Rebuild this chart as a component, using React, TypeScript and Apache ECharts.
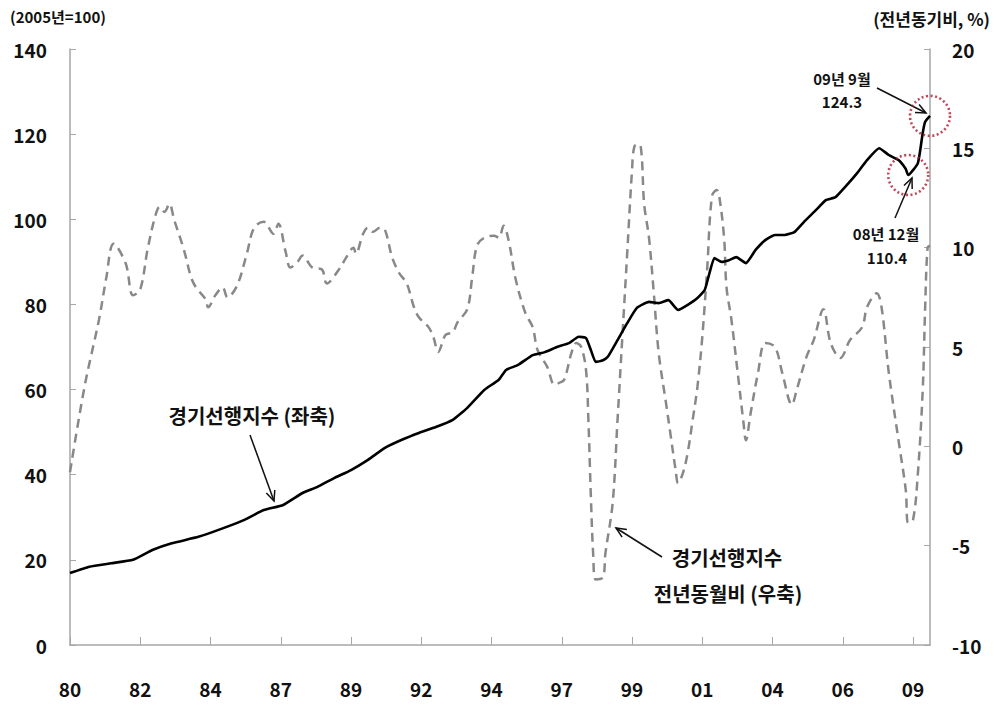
import React, { useEffect, useRef } from "react";
import * as echarts from "echarts";

// Monthly categories: Feb 1980 .. Sep 2009
const MONTHS: string[] = [];
for (let y = 1980; y <= 2009; y++) {
  for (let m = 1; m <= 12; m++) {
    if (y === 1980 && m < 2) continue;
    if (y === 2009 && m > 9) break;
    MONTHS.push(`${y}-${String(m).padStart(2, "0")}`);
  }
}

// 경기선행지수 (좌축, 2005=100)
const ciDates = [
  "1980-02", "1980-10", "1981-07", "1982-04", "1982-12", "1983-08", "1984-07", "1985-05",
  "1986-02", "1986-10", "1987-06", "1988-02", "1988-08", "1989-03", "1989-10", "1990-05",
  "1990-12", "1991-07", "1992-02", "1992-09", "1993-04", "1993-10", "1994-05", "1994-11",
  "1995-02", "1995-07", "1996-01", "1996-06", "1996-11", "1997-04", "1997-08", "1997-11",
  "1998-01", "1998-03", "1998-06", "1998-08", "1998-12", "1999-04", "1999-08", "2000-01",
  "2000-05", "2000-09", "2001-01", "2001-05", "2001-09", "2001-12", "2002-02", "2002-04",
  "2002-07", "2002-10", "2003-01", "2003-05", "2003-09", "2004-01", "2004-05", "2004-09",
  "2005-01", "2005-05", "2005-10", "2006-02", "2006-06", "2006-10", "2007-03", "2007-07",
  "2007-12", "2008-04", "2008-08", "2008-11", "2008-12", "2009-04", "2009-06", "2009-07",
  "2009-09",
];
const ciValues = [
  16.9, 18.4, 19.2, 20.0, 22.3, 23.9, 25.4, 27.4,
  29.4, 31.7, 32.9, 35.7, 37.1, 39.2, 41.1, 43.5,
  46.3, 48.2, 49.8, 51.2, 52.9, 55.7, 59.9, 62.3,
  64.6, 65.8, 68.1, 68.8, 70.0, 70.9, 72.4, 72.1,
  69.3, 66.5, 66.9, 67.7, 71.6, 75.6, 79.2, 80.6,
  80.3, 81.0, 78.7, 79.9, 81.5, 83.4, 87.4, 90.9,
  90.0, 90.4, 91.1, 89.7, 92.8, 95.1, 96.3, 96.3,
  97.0, 99.4, 102.2, 104.5, 105.2, 107.6, 110.9, 113.9,
  116.7, 115.1, 113.9, 111.8, 110.4, 113.2, 120.3, 122.9,
  124.3,
];

// 경기선행지수 전년동월비 (우축, %)
const yoyDates = [
  "1980-02", "1980-08", "1981-02", "1981-05", "1981-08", "1982-01", "1982-04", "1982-07",
  "1982-10", "1983-01", "1983-03", "1983-05", "1983-07", "1983-09", "1984-01", "1984-04",
  "1984-06", "1984-10", "1984-11", "1985-02", "1985-05", "1985-07", "1985-11", "1986-03",
  "1986-06", "1986-10", "1987-02", "1987-04", "1987-07", "1987-09", "1987-12", "1988-02",
  "1988-06", "1988-10", "1988-12", "1989-05", "1989-08", "1989-11", "1989-12", "1990-03",
  "1990-05", "1990-07", "1990-10", "1990-12", "1991-03", "1991-06", "1991-09", "1991-12",
  "1992-02", "1992-06", "1992-08", "1992-10", "1993-01", "1993-04", "1993-06", "1993-10",
  "1993-12", "1994-02", "1994-05", "1994-09", "1994-11", "1995-01", "1995-03", "1995-06",
  "1995-10", "1996-01", "1996-03", "1996-07", "1996-10", "1996-12", "1997-02", "1997-05",
  "1997-07", "1997-09", "1997-11", "1997-12", "1998-01", "1998-02", "1998-03", "1998-06",
  "1998-07", "1998-10", "1998-12", "1999-02", "1999-04", "1999-06", "1999-07", "1999-09",
  "1999-10", "1999-11", "2000-01", "2000-03", "2000-05", "2000-08", "2000-10", "2000-12",
  "2001-01", "2001-03", "2001-05", "2001-07", "2001-09", "2001-11", "2002-01", "2002-03",
  "2002-05", "2002-06", "2002-08", "2002-09", "2002-11", "2003-02", "2003-04", "2003-05",
  "2003-07", "2003-10", "2004-01", "2004-05", "2004-08", "2004-12", "2005-02", "2005-06",
  "2005-09", "2006-01", "2006-04", "2006-08", "2006-12", "2007-05", "2007-07", "2007-11",
  "2008-01", "2008-04", "2008-08", "2008-11", "2008-12", "2009-02", "2009-04", "2009-06",
  "2009-07", "2009-08", "2009-09",
];
const yoyValues = [
  -1.3, 3.0, 6.4, 8.5, 10.2, 9.2, 7.6, 7.9,
  9.9, 11.5, 12.05, 11.8, 12.2, 11.4, 9.9, 8.5,
  8.0, 7.4, 7.0, 7.6, 8.0, 7.5, 8.1, 9.7,
  11.0, 11.3, 10.7, 11.2, 9.8, 9.0, 9.3, 9.6,
  9.0, 8.9, 8.2, 8.9, 9.5, 10.0, 9.7, 10.7,
  11.0, 10.8, 11.0, 10.9, 9.5, 8.7, 8.2, 7.0,
  6.5, 6.0, 5.5, 4.75, 5.6, 5.75, 6.25, 6.9,
  8.5, 10.1, 10.5, 10.6, 10.5, 11.1, 10.4, 8.4,
  6.7, 6.0, 4.85, 4.0, 3.1, 3.2, 3.35, 4.7,
  5.2, 5.0, 3.85, 1.3, -2.5, -5.5, -6.7, -6.6,
  -5.4, -2.85, 1.3, 5.5, 9.7, 13.9, 15.1, 15.2,
  14.6, 12.2, 10.5, 7.7, 4.7, 2.2, 0.5, -1.2,
  -1.85, -1.35, -0.3, 1.3, 3.0, 5.5, 8.9, 12.6,
  12.9, 12.6, 10.5, 8.0, 6.4, 3.3, 1.2, 0.3,
  1.7, 3.7, 5.2, 5.0, 3.7, 2.1, 2.85, 4.5,
  5.35, 6.9, 5.2, 4.45, 5.35, 6.0, 7.0, 7.7,
  7.0, 3.7, 0.3, -2.2, -3.85, -3.7, -1.35, 2.85,
  7.0, 10.0, 10.1,
];

// Highlighted points
const markDates = ["2008-12", "2009-09"];
const markValues = [110.4, 124.3];

const FONT = '"Noto Sans CJK KR", "Noto Sans", sans-serif';

function arrow(x1: number, y1: number, x2: number, y2: number) {
  const a = Math.atan2(y2 - y1, x2 - x1);
  const L = 11;
  const s = 0.42;
  const p1 = [x2 - L * Math.cos(a - s), y2 - L * Math.sin(a - s)];
  const p2 = [x2 - L * Math.cos(a + s), y2 - L * Math.sin(a + s)];
  return [
    { type: "line", shape: { x1, y1, x2, y2 }, style: { stroke: "#111", lineWidth: 1.5 } },
    {
      type: "polyline",
      shape: { points: [p1, [x2, y2], p2] },
      style: { stroke: "#111", lineWidth: 1.5, fill: null },
    },
  ];
}

function txt(x: number, y: number, text: string, size: number, align = "center") {
  return {
    type: "text",
    x,
    y,
    style: {
      text,
      fontSize: size,
      fontWeight: "bold",
      fontFamily: FONT,
      fill: "#111",
      align,
      verticalAlign: "middle",
    },
  };
}

export default function App() {
  const ref = useRef<HTMLDivElement>(null);

  useEffect(() => {
    document.body.style.margin = "0";
    if (!ref.current) return;
    const chart = echarts.init(ref.current, undefined, { renderer: "svg" });
    const axisColor = "#a6a6a6";
    const every29 = (i: number) => i % 29 === 0;

    chart.setOption({
      animation: false,
      backgroundColor: "#fff",
      grid: { left: 70, right: 65, top: 49, bottom: 60, containLabel: false },
      xAxis: {
        type: "category",
        data: MONTHS,
        boundaryGap: false,
        axisLine: { lineStyle: { color: axisColor, width: 1.5 } },
        axisTick: { inside: true, length: 8, interval: every29, lineStyle: { color: axisColor } },
        axisLabel: {
          interval: every29,
          formatter: (v: string) => v.slice(2, 4),
          margin: 34,
          fontSize: 19,
          fontWeight: "bold",
          fontFamily: FONT,
          color: "#111",
        },
        splitLine: { show: false },
      },
      yAxis: [
        {
          type: "value",
          min: 0,
          max: 140,
          interval: 20,
          position: "left",
          axisLine: { show: true, lineStyle: { color: axisColor, width: 1.5 } },
          axisTick: { show: true, inside: true, length: 6, lineStyle: { color: axisColor } },
          axisLabel: { margin: 23, fontSize: 19, fontWeight: "bold", fontFamily: FONT, color: "#111" },
          splitLine: { show: false },
        },
        {
          type: "value",
          min: -10,
          max: 20,
          interval: 5,
          position: "right",
          axisLine: { show: true, lineStyle: { color: axisColor, width: 1.5 } },
          axisTick: { show: true, inside: true, length: 6, lineStyle: { color: axisColor } },
          axisLabel: { margin: 22, fontSize: 19, fontWeight: "bold", fontFamily: FONT, color: "#111" },
          splitLine: { show: false },
        },
      ],
      series: [
        {
          name: "경기선행지수 전년동월비",
          type: "line",
          yAxisIndex: 1,
          data: yoyDates.map((d, k) => [d, yoyValues[k]]),
          smooth: 0.35,
          showSymbol: false,
          symbol: "none",
          lineStyle: { color: "#888888", width: 2.5, type: [9, 6] },
          z: 2,
        },
        {
          name: "경기선행지수",
          type: "line",
          yAxisIndex: 0,
          data: ciDates.map((d, k) => [d, ciValues[k]]),
          smooth: 0.15,
          showSymbol: false,
          symbol: "none",
          lineStyle: { color: "#000", width: 2.6 },
          z: 3,
        },
        {
          name: "강조",
          type: "scatter",
          yAxisIndex: 0,
          clip: false,
          data: markDates.map((d, k) => [d, markValues[k]]),
          symbol: "circle",
          symbolSize: 40,
          itemStyle: {
            color: "rgba(0,0,0,0)",
            borderColor: "#b01c30",
            borderWidth: 2.6,
            borderType: [2, 2.5],
          },
          z: 4,
        },
      ],
      graphic: [
        txt(10, 16, "(2005년=100)", 15, "left"),
        txt(990, 18, "(전년동기비, %)", 17, "right"),
        txt(252, 415, "경기선행지수 (좌축)", 20),
        ...arrow(250, 435, 274, 501),
        txt(727, 557, "경기선행지수", 20),
        txt(728, 593, "전년동월비 (우축)", 20),
        ...arrow(662, 557, 616, 528),
        txt(842, 78, "09년 9월", 15),
        txt(842, 101, "124.3", 15),
        ...arrow(877, 88, 926, 113),
        txt(886, 233, "08년 12월", 15),
        txt(887, 257, "110.4", 15),
        ...arrow(895, 218, 912, 178),
      ],
    });

    return () => chart.dispose();
  }, []);

  return <div ref={ref} style={{ width: 995, height: 705 }} />;
}
